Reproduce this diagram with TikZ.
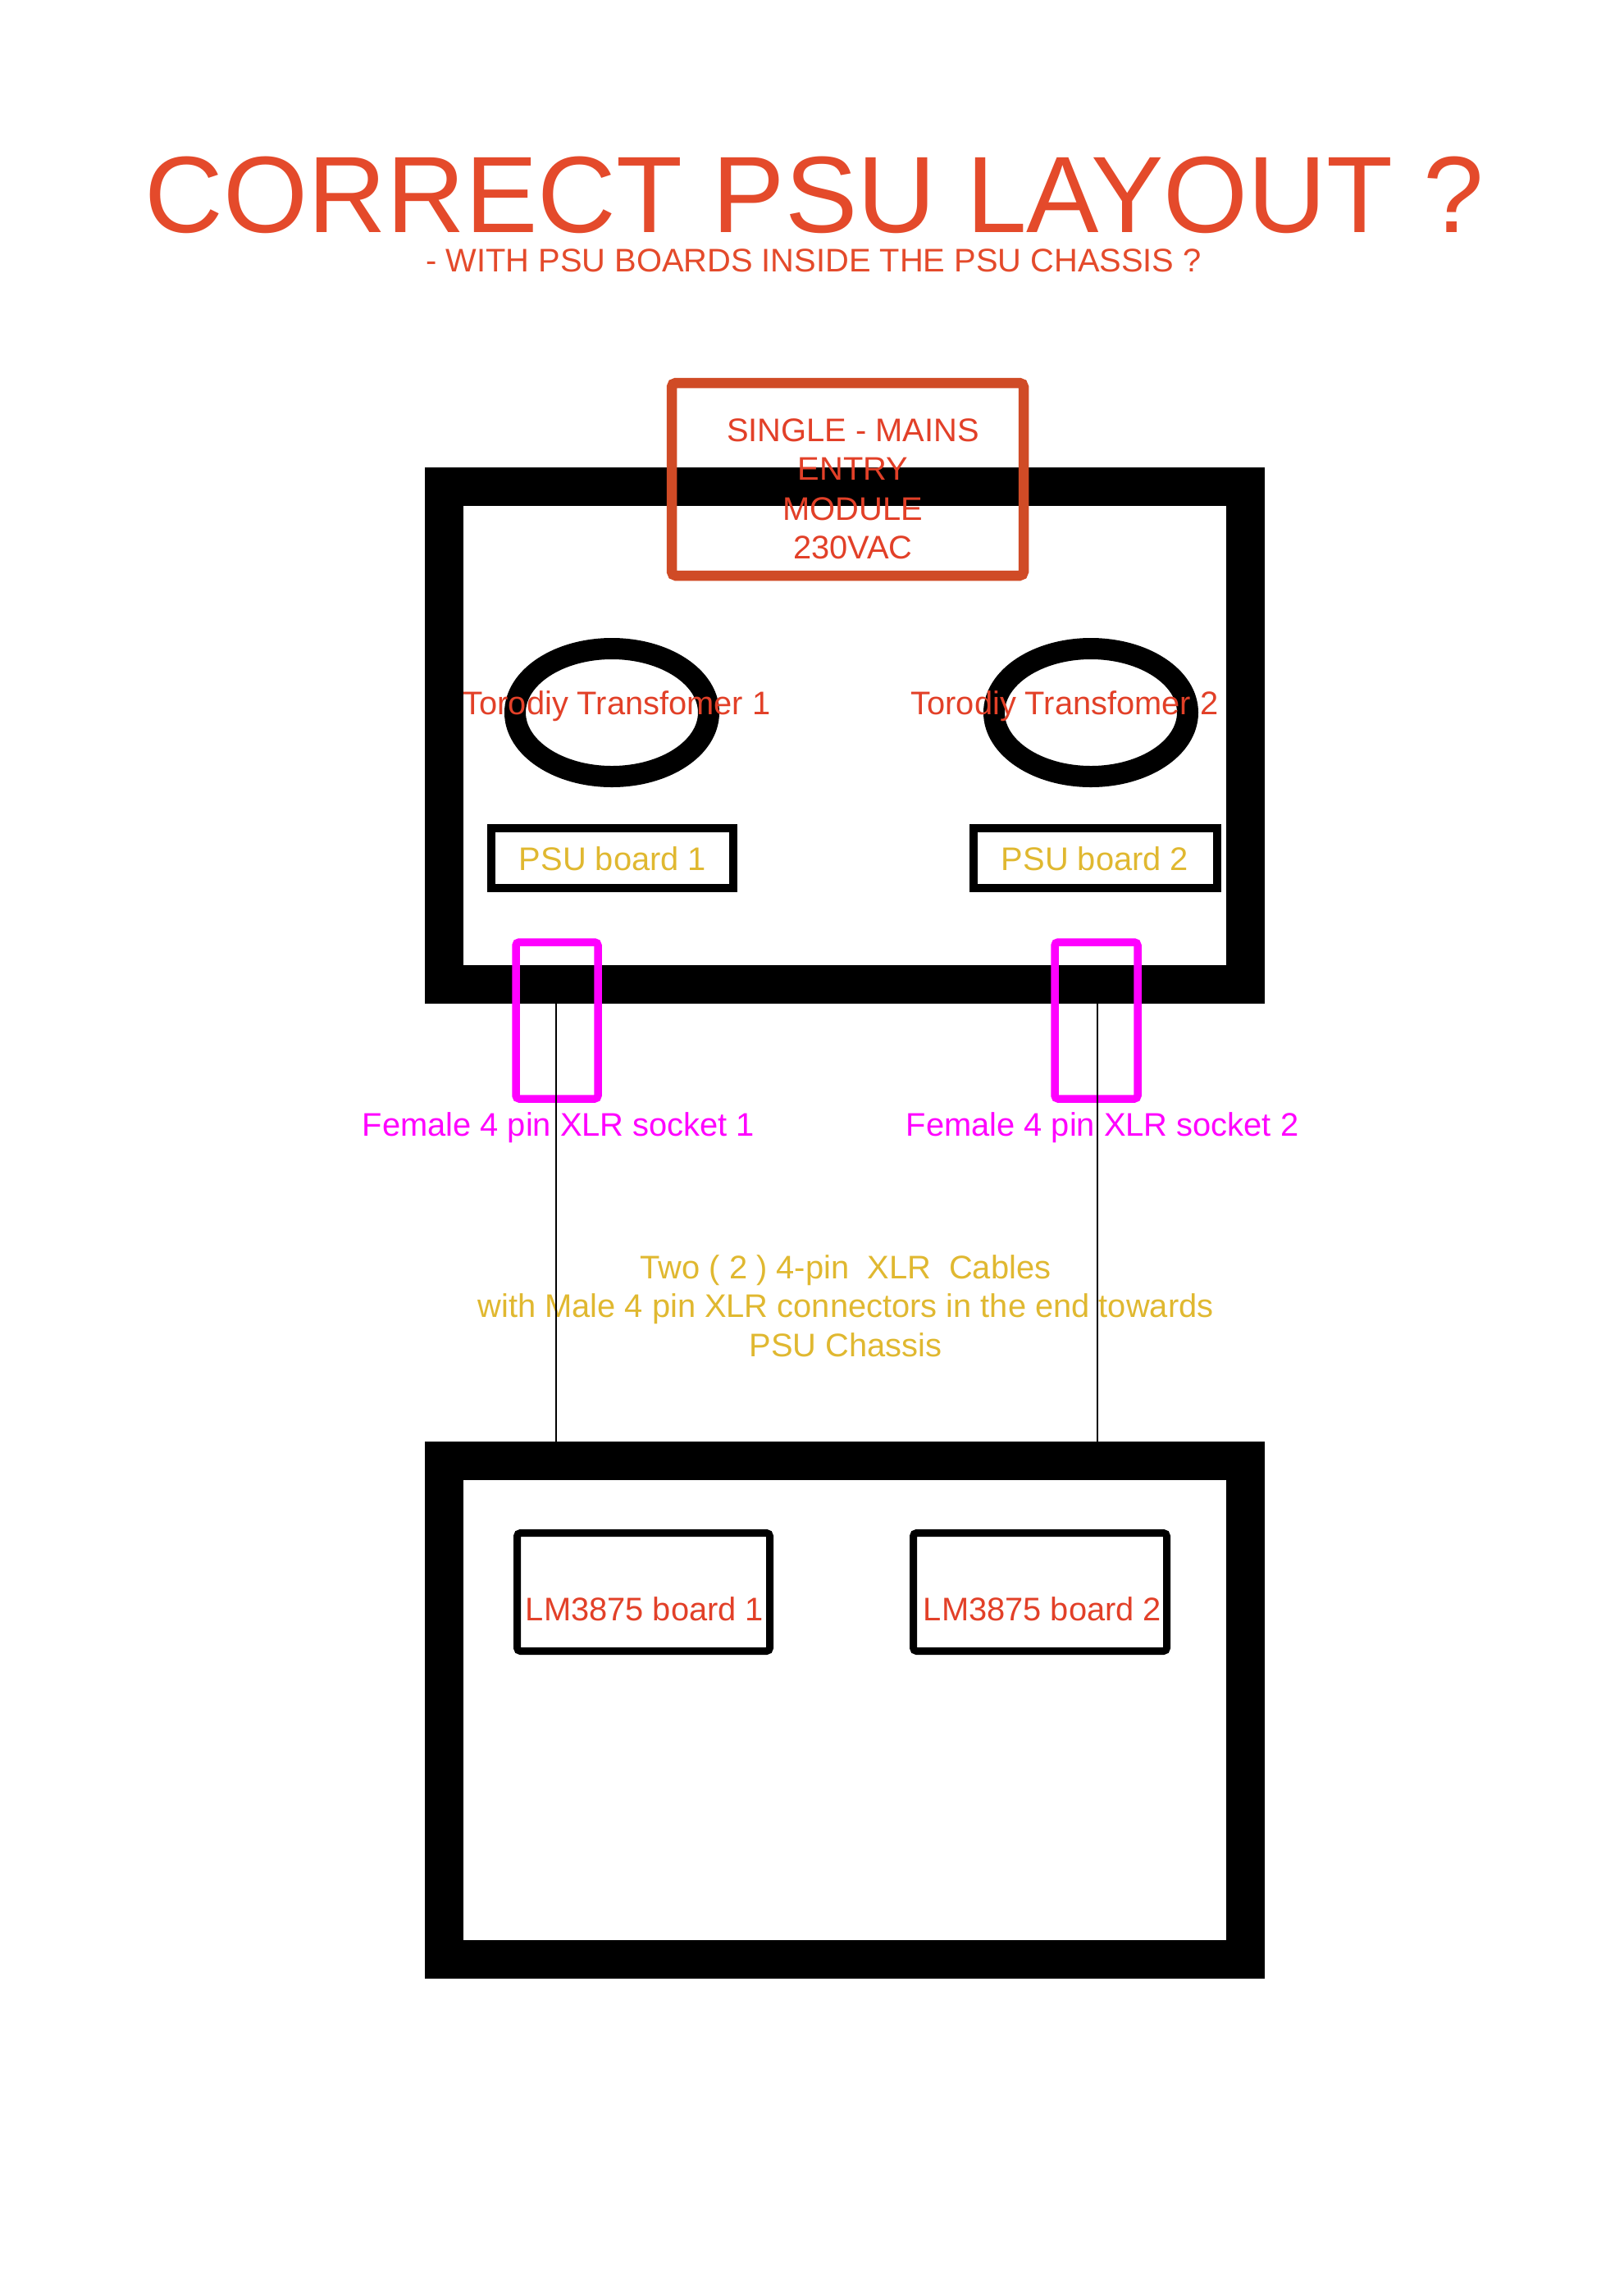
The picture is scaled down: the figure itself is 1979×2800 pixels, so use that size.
\documentclass[tikz,border=0pt]{standalone}
\usepackage{fontspec}
\setmainfont{Liberation Sans}
\definecolor{titlered}{RGB}{228,74,43}
\definecolor{boxred}{RGB}{208,75,38}
\definecolor{textred}{RGB}{226,64,40}
\definecolor{gold}{RGB}{224,184,48}
\definecolor{mag}{RGB}{255,0,255}
\begin{document}
\begin{tikzpicture}[x=1bp,y=-1bp,
  chassis/.style={draw=black,line width=47bp},
  toroid/.style={draw=black,line width=26bp},
  psubox/.style={draw=black,line width=10bp},
  lmbox/.style={draw=black,line width=9bp,rounded corners=4bp},
  mainsbox/.style={draw=boxred,line width=12.5bp,rounded corners=5bp},
  xlr/.style={draw=mag,line width=9.5bp,rounded corners=4bp},
  cable/.style={draw=black,line width=2bp},
  lbl/.style={font=\fontsize{40}{47.5}\selectfont,anchor=base,inner sep=0pt}
]
\useasboundingbox[fill=white] (0,0) rectangle (1979,2800);
% title
\node[anchor=base,inner sep=0pt,text=titlered,font=\fontsize{133}{133}\selectfont] (title) at (993,283) {CORRECT PSU LAYOUT ?};
\node[lbl,text=titlered] (subtitle) at (992,331) {- WITH PSU BOARDS INSIDE THE PSU CHASSIS ?};
% chassis
\draw[chassis] (541.5,593.5) rectangle (1518.5,1200.5);
\draw[chassis] (541.5,1781.5) rectangle (1518.5,2389.5);
% toroids
\draw[toroid] (746,869) ellipse [x radius=118, y radius=78];
\draw[toroid] (1330,869) ellipse [x radius=118, y radius=78];
\node[lbl,text=textred] (tr1) at (752,871) {Torodiy Transfomer 1};
\node[lbl,text=textred] (tr2) at (1298,871) {Torodiy Transfomer 2};
% mains entry
\draw[mainsbox] (819,467) rectangle (1248,702);
\node[lbl,text=textred] (m1) at (1040,538) {SINGLE - MAINS};
\node[lbl,text=textred] (m2) at (1040,585) {ENTRY};
\node[lbl,text=textred] (m3) at (1040,634) {MODULE};
\node[lbl,text=textred] (m4) at (1040,681) {230VAC};
% PSU boards
\draw[psubox] (598.5,1010) rectangle (894,1082.5);
\draw[psubox] (1187,1010) rectangle (1484,1082.5);
\node[lbl,text=gold] (psu1) at (747,1061) {PSU board 1};
\node[lbl,text=gold] (psu2) at (1335,1061) {PSU board 2};
% XLR sockets
\draw[xlr] (629,1149) rectangle (729,1340);
\draw[xlr] (1286,1149) rectangle (1387,1340);
\coordinate (s1top) at (678,1215);
\coordinate (s2top) at (1338,1215);
\coordinate (a1) at (678,1792);
\coordinate (a2) at (1338,1792);
\node[lbl,text=mag] (sock1) at (681,1385) {Female 4 pin XLR socket 1};
\node[lbl,text=mag] (sock2) at (1344,1385) {Female 4 pin XLR socket 2};
% cable text
\node[lbl,text=gold] (c1) at (1031,1559) {Two ( 2 ) 4-pin\ \ XLR\ \ Cables};
\node[lbl,text=gold] (c2) at (1031,1606) {with Male 4 pin XLR connectors in the end towards};
\node[lbl,text=gold] (c3) at (1031,1654) {PSU Chassis};
% cables
\draw[cable] (s1top) -- (a1);
\draw[cable] (s2top) -- (a2);
% LM3875 boards
\draw[lmbox] (630.5,1869.5) rectangle (938.5,2013.5);
\draw[lmbox] (1113.5,1869.5) rectangle (1422.5,2013.5);
\node[lbl,text=textred] (lm1) at (786,1976) {LM3875 board 1};
\node[lbl,text=textred] (lm2) at (1271,1976) {LM3875 board 2};
\end{tikzpicture}
\end{document}
